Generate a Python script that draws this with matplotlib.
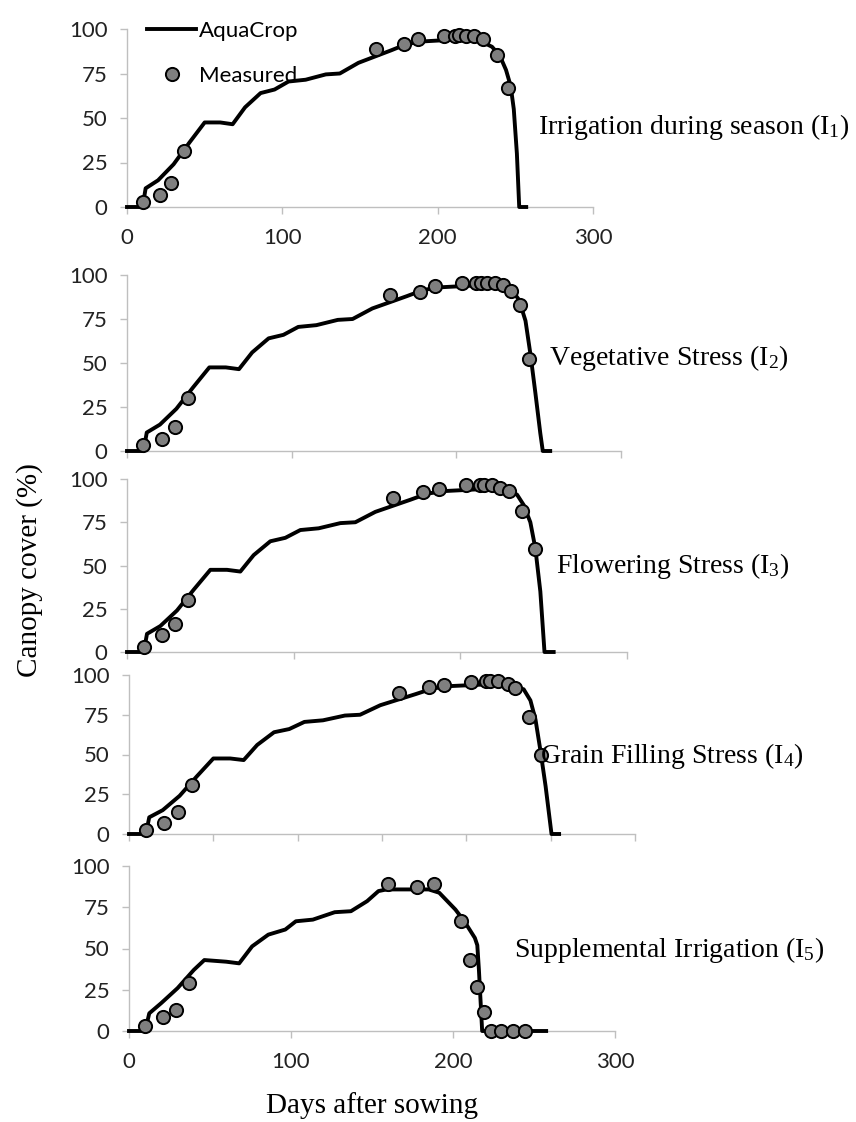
import numpy as np
import matplotlib
matplotlib.use("Agg")
import matplotlib.pyplot as plt

plt.rcParams['font.family'] = ['Lato', 'DejaVu Sans']
plt.rcParams['mathtext.fontset'] = 'custom'
plt.rcParams['mathtext.rm'] = 'Liberation Serif'
plt.rcParams['mathtext.it'] = 'Liberation Serif:italic'

# ---- data (days after sowing, canopy cover %) ----
# AquaCrop simulated canopy cover, shared early season shape
sim_days_base = [0, 10, 12, 20, 30, 40, 50, 60, 68, 76, 86, 95, 104, 115, 128, 137, 149, 161, 170, 180, 190, 200, 210, 220, 228]
sim_cc_base = [0, 0, 10.5, 15, 24, 36, 47.5, 47.5, 46.5, 56, 64, 66, 70.5, 71.5, 74.5, 75, 81, 85, 88, 91.5, 93, 93.5, 94, 94, 93]

sim1_tail_days = [235, 240, 244, 247, 249, 251, 252.5, 257]
sim1_tail_cc = [90, 85, 77, 68, 55, 30, 0, 0]
sim2_tail_days = [234, 238, 242, 245, 248, 251, 252.5, 257]
sim2_tail_cc = [91, 86, 74, 55, 33, 10, 0, 0]
sim3_tail_days = [234, 238, 242, 245, 248, 250.5, 256]
sim3_tail_cc = [91, 85, 75, 60, 35, 0, 0]
sim4_tail_days = [234, 238, 241, 244, 247, 250.5, 255]
sim4_tail_cc = [91, 84, 72, 52, 30, 0, 0]

sim5_days = [0, 10, 12.5, 20, 30, 40, 46.5, 60, 68, 76, 86, 96.5, 103, 113.5, 127, 137, 147, 154, 159, 185, 191.5, 201.5, 207, 213.5, 215, 216, 218, 257.5]
sim5_cc = [0, 0, 10.7, 17, 26, 37, 43, 42, 41, 51.3, 58.4, 61.5, 66.5, 67.5, 72, 72.6, 78.7, 84.8, 85.8, 85.8, 83.8, 73.6, 66.5, 56.4, 52, 37, 0, 0]

# Measured canopy cover
obs1_days = [10.5, 21, 28.5, 37, 160, 178.5, 187.5, 204, 211, 214, 218, 223.5, 229.5, 238, 245]
obs1_cc = [3, 6.6, 13.5, 31.3, 88.8, 91.8, 94.6, 96, 96.3, 96.4, 96.3, 96, 94.4, 85.6, 67]
obs2_days = [10, 21, 29, 37, 160, 178, 187, 203.5, 212, 215, 218.5, 223.5, 228.5, 233.5, 238.5, 244]
obs2_cc = [3.2, 7, 13.4, 30, 88.5, 90.5, 93.5, 95.4, 95.4, 95.4, 95.4, 95.4, 94.3, 90.8, 82.8, 52.3]
obs3_days = [10, 20.7, 29, 36.5, 159.7, 177.8, 187, 203.5, 211.7, 214, 219, 224, 229, 237, 244.7]
obs3_cc = [3, 9.8, 16, 30, 88.8, 92.3, 94.2, 96.7, 96.7, 96.7, 96.3, 94.8, 92.9, 81.7, 59.6]
obs4_days = [9.8, 21, 29, 37.4, 160, 178, 187, 203, 211.5, 214, 219, 224.5, 228.7, 237, 244]
obs4_cc = [2.6, 7.2, 14, 30.6, 88.5, 92.3, 94, 95.7, 96.2, 96.2, 96.2, 94.5, 92, 73.8, 50]
obs5_days = [10, 21, 28.8, 37.3, 160, 178, 188, 205, 210.8, 214.6, 219.3, 223.7, 229.5, 237, 244.7]
obs5_cc = [3.2, 8.3, 12.8, 29, 88.8, 87.4, 88.8, 66.5, 43.2, 26.6, 11.8, 0, 0, 0, 0]

labels = ["Irrigation during season (I$_1$)", "Vegetative Stress (I$_2$)", "Flowering Stress (I$_3$)",
          "Grain Filling Stress (I$_4$)", "Supplemental Irrigation (I$_5$)"]
yticks = [0, 25, 50, 75, 100]

sims = [
    (sim_days_base + sim1_tail_days, sim_cc_base + sim1_tail_cc),
    (sim_days_base + sim2_tail_days, sim_cc_base + sim2_tail_cc),
    (sim_days_base + sim3_tail_days, sim_cc_base + sim3_tail_cc),
    (sim_days_base + sim4_tail_days, sim_cc_base + sim4_tail_cc),
    (sim5_days, sim5_cc),
]
obs = [(obs1_days, obs1_cc), (obs2_days, obs2_cc), (obs3_days, obs3_cc),
       (obs4_days, obs4_cc), (obs5_days, obs5_cc)]

# ---- layout (pixel boxes: left, right, top, bottom) ----
W, H = 856, 1122
boxes = [(127, 593, 29, 207), (127, 621, 275, 451), (127, 627, 479, 652),
         (129, 635, 675, 834), (129, 615, 866, 1031)]
label_pos = [(538, 127), (549, 358), (556, 566), (540, 756), (514, 950)]
xstep = [100, 100, 100, 50, 100]

fig = plt.figure(figsize=(W / 100, H / 100), dpi=100)
grey = '#bfbfbf'

for i in range(5):
    l, r, t, b = boxes[i]
    ax = fig.add_axes([l / W, 1 - b / H, (r - l) / W, (b - t) / H])
    ax.plot(sims[i][0], sims[i][1], color='black', lw=2.8, clip_on=False, zorder=3, label='AquaCrop')
    ax.plot(obs[i][0], obs[i][1], 'o', ms=9.5, mfc='#7f7f7f', mec='black', mew=1.4,
            clip_on=False, zorder=4, label='Measured')
    ax.set_xlim(0, 300)
    ax.set_ylim(0, 100)
    ax.set_xticks(np.arange(0, 301, xstep[i]))
    ax.set_yticks(yticks)
    for s in ['top', 'right']:
        ax.spines[s].set_visible(False)
    for s in ['left', 'bottom']:
        ax.spines[s].set_color(grey)
        ax.spines[s].set_linewidth(1.0)
    ax.tick_params(axis='both', direction='out', length=5, width=1.0, color=grey,
                   labelsize=16, labelcolor='#222222')
    ax.tick_params(axis='y', pad=9)
    ax.tick_params(axis='x', pad=10)
    if i not in (0, 4):
        ax.set_xticklabels([])
    fig.text(label_pos[i][0] / W, 1 - label_pos[i][1] / H, labels[i], fontsize=20,
             family='Liberation Serif', va='center', ha='left')
    if i == 0:
        ax.legend(loc='upper left', bbox_to_anchor=(136 / W, 1 - 10 / H),
                  bbox_transform=fig.transFigure, frameon=False, fontsize=16,
                  handlelength=2.2, labelspacing=1.1, handletextpad=0.15, borderpad=0)

fig.text(30 / W, 1 - 570 / H, "Canopy cover (%)", rotation=90, fontsize=21,
         family='Liberation Serif', va='center', ha='center')
fig.text(372 / W, 1 - 1106 / H, "Days after sowing", fontsize=21,
         family='Liberation Serif', va='center', ha='center')

fig.savefig("out.png", dpi=100)
